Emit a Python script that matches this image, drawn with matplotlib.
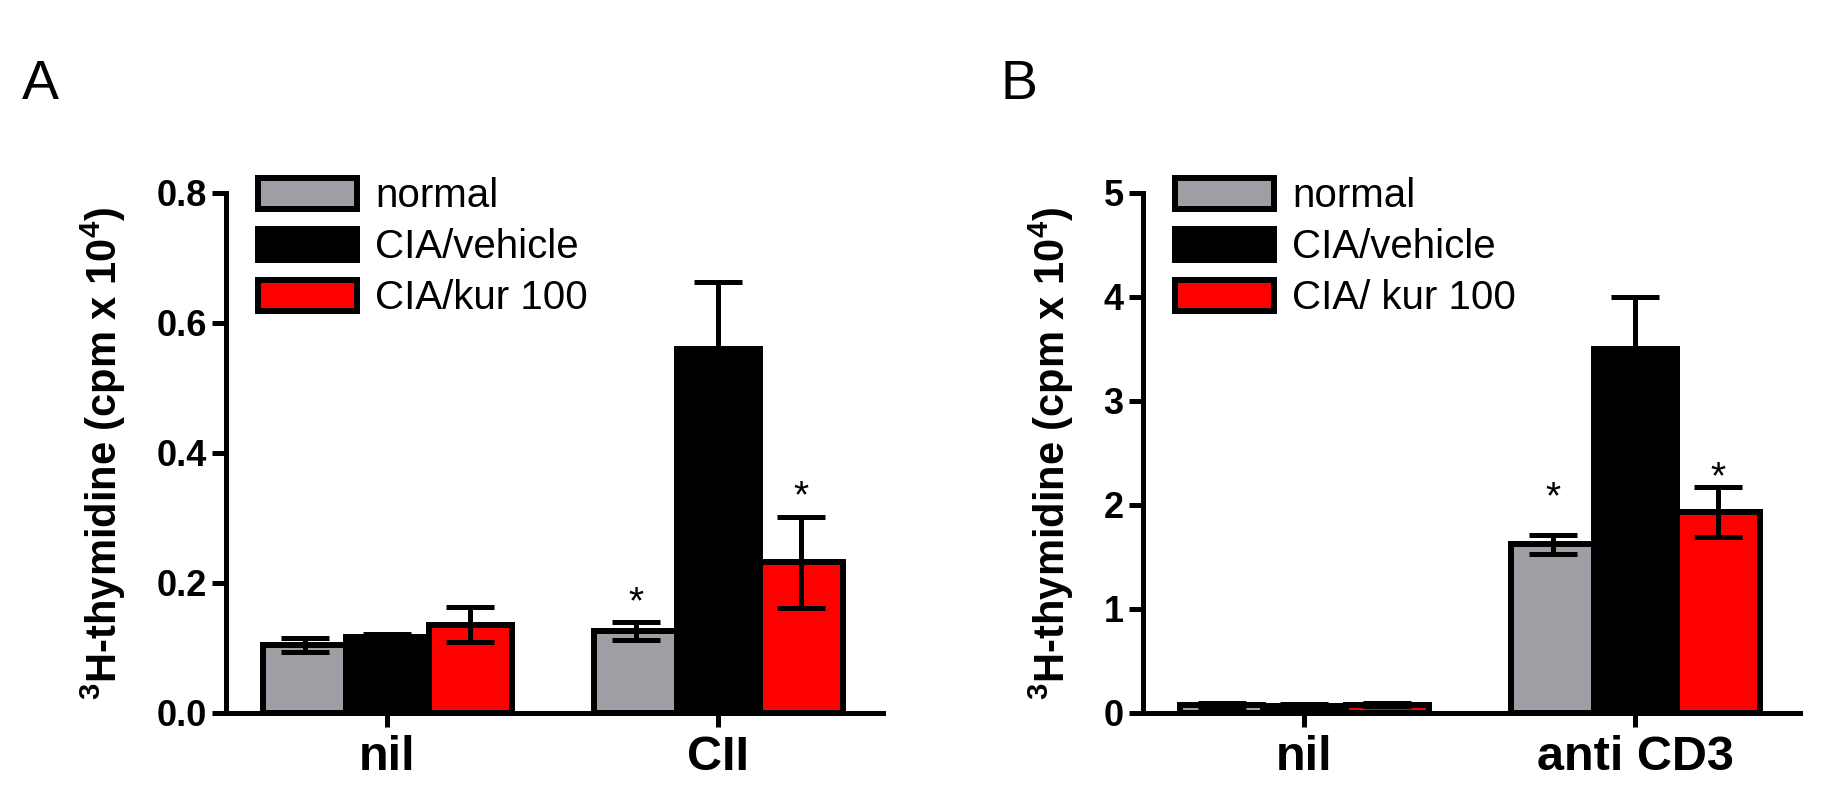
import numpy as np
import matplotlib
matplotlib.use('Agg')
import matplotlib.pyplot as plt

plt.rcParams['font.family'] = ['Liberation Sans', 'DejaVu Sans']
plt.rcParams['mathtext.fontset'] = 'custom'
plt.rcParams['mathtext.rm'] = 'Liberation Sans'
plt.rcParams['mathtext.bf'] = 'Liberation Sans:bold'
plt.rcParams['mathtext.default'] = 'regular'

# ---- data ----
groups_a = ['nil', 'CII']
groups_b = ['nil', 'anti CD3']
series_a = ['normal', 'CIA/vehicle', 'CIA/kur 100']
series_b = ['normal', 'CIA/vehicle', 'CIA/ kur 100']
colors = ['#A09EA4', '#000000', '#FF0000']

a_normal = [0.105, 0.126]
a_normal_err = [0.011, 0.014]
a_vehicle = [0.117, 0.560]
a_vehicle_err = [0.004, 0.103]
a_kur = [0.136, 0.232]
a_kur_err = [0.027, 0.070]
a_star_group = [1, 1]
a_star_series = [0, 2]
a_star_y = [0.185, 0.348]

b_normal = [0.08, 1.62]
b_normal_err = [0.02, 0.09]
b_vehicle = [0.07, 3.50]
b_vehicle_err = [0.015, 0.50]
b_kur = [0.08, 1.93]
b_kur_err = [0.015, 0.24]
b_star_group = [1, 1]
b_star_series = [0, 2]
b_star_y = [2.17, 2.36]

yticks_a = [0.0, 0.2, 0.4, 0.6, 0.8]
yticks_b = [0, 1, 2, 3, 4, 5]
ylabel = r'$^3$H-thymidine (cpm x 10$^4$)'

lw = 4.3
centers = np.array([0.0, 4.0])
offsets = [-1.0, 0.0, 1.0]


def draw_panel(ax, means, errs, series, groups, yticks, ytfmt,
               star_g, star_s, star_y):
    handles = []
    for i in range(3):
        x = centers + offsets[i]
        b = ax.bar(x, means[i], width=1.0, color=colors[i],
                   edgecolor='black', linewidth=lw, zorder=2)
        handles.append(b)
        ax.errorbar(x, means[i], yerr=errs[i], fmt='none', ecolor='black',
                    elinewidth=3.6, capsize=17, capthick=3.6, zorder=3)
    for g, s, y in zip(star_g, star_s, star_y):
        ax.annotate('*', (centers[g] + offsets[s], y), xytext=(0, -15),
                    textcoords='offset points', ha='center', va='baseline',
                    fontsize=28)
    ax.set_xlim(-1.95, 5.99)
    ax.set_ylim(yticks[0], yticks[-1])
    ax.set_yticks(yticks, [ytfmt.format(t) for t in yticks],
                  fontsize=26, fontweight='bold')
    ax.set_xticks(centers, groups, fontsize=35, fontweight='bold')
    ax.tick_params(axis='y', length=10, width=3.6, pad=4)
    ax.tick_params(axis='x', length=10, width=3.6, pad=6)
    for sp in ['top', 'right']:
        ax.spines[sp].set_visible(False)
    for sp in ['left', 'bottom']:
        ax.spines[sp].set_linewidth(3.6)
    ax.set_ylabel(ylabel, fontsize=30, fontweight='bold', labelpad=20)
    ax.legend(handles, series, loc='upper left',
              bbox_to_anchor=(0.049, 1.03), frameon=False, fontsize=29,
              handlelength=2.45, handleheight=0.8, handletextpad=0.45,
              labelspacing=0.32, borderaxespad=0, borderpad=0)


fig = plt.figure(figsize=(18.26, 8.06), dpi=100)
ax_a = fig.add_axes([0.1238, 0.1154, 0.3598, 0.6452])
ax_b = fig.add_axes([0.626, 0.1154, 0.3598, 0.6452])

draw_panel(ax_a, [a_normal, a_vehicle, a_kur],
           [a_normal_err, a_vehicle_err, a_kur_err],
           series_a, groups_a, yticks_a, '{:.1f}',
           a_star_group, a_star_series, a_star_y)
draw_panel(ax_b, [b_normal, b_vehicle, b_kur],
           [b_normal_err, b_vehicle_err, b_kur_err],
           series_b, groups_b, yticks_b, '{:d}',
           b_star_group, b_star_series, b_star_y)

fig.text(0.012, 0.877, 'A', fontsize=40, va='baseline')
fig.text(0.548, 0.877, 'B', fontsize=40, va='baseline')

fig.savefig('out.png', dpi=100)
